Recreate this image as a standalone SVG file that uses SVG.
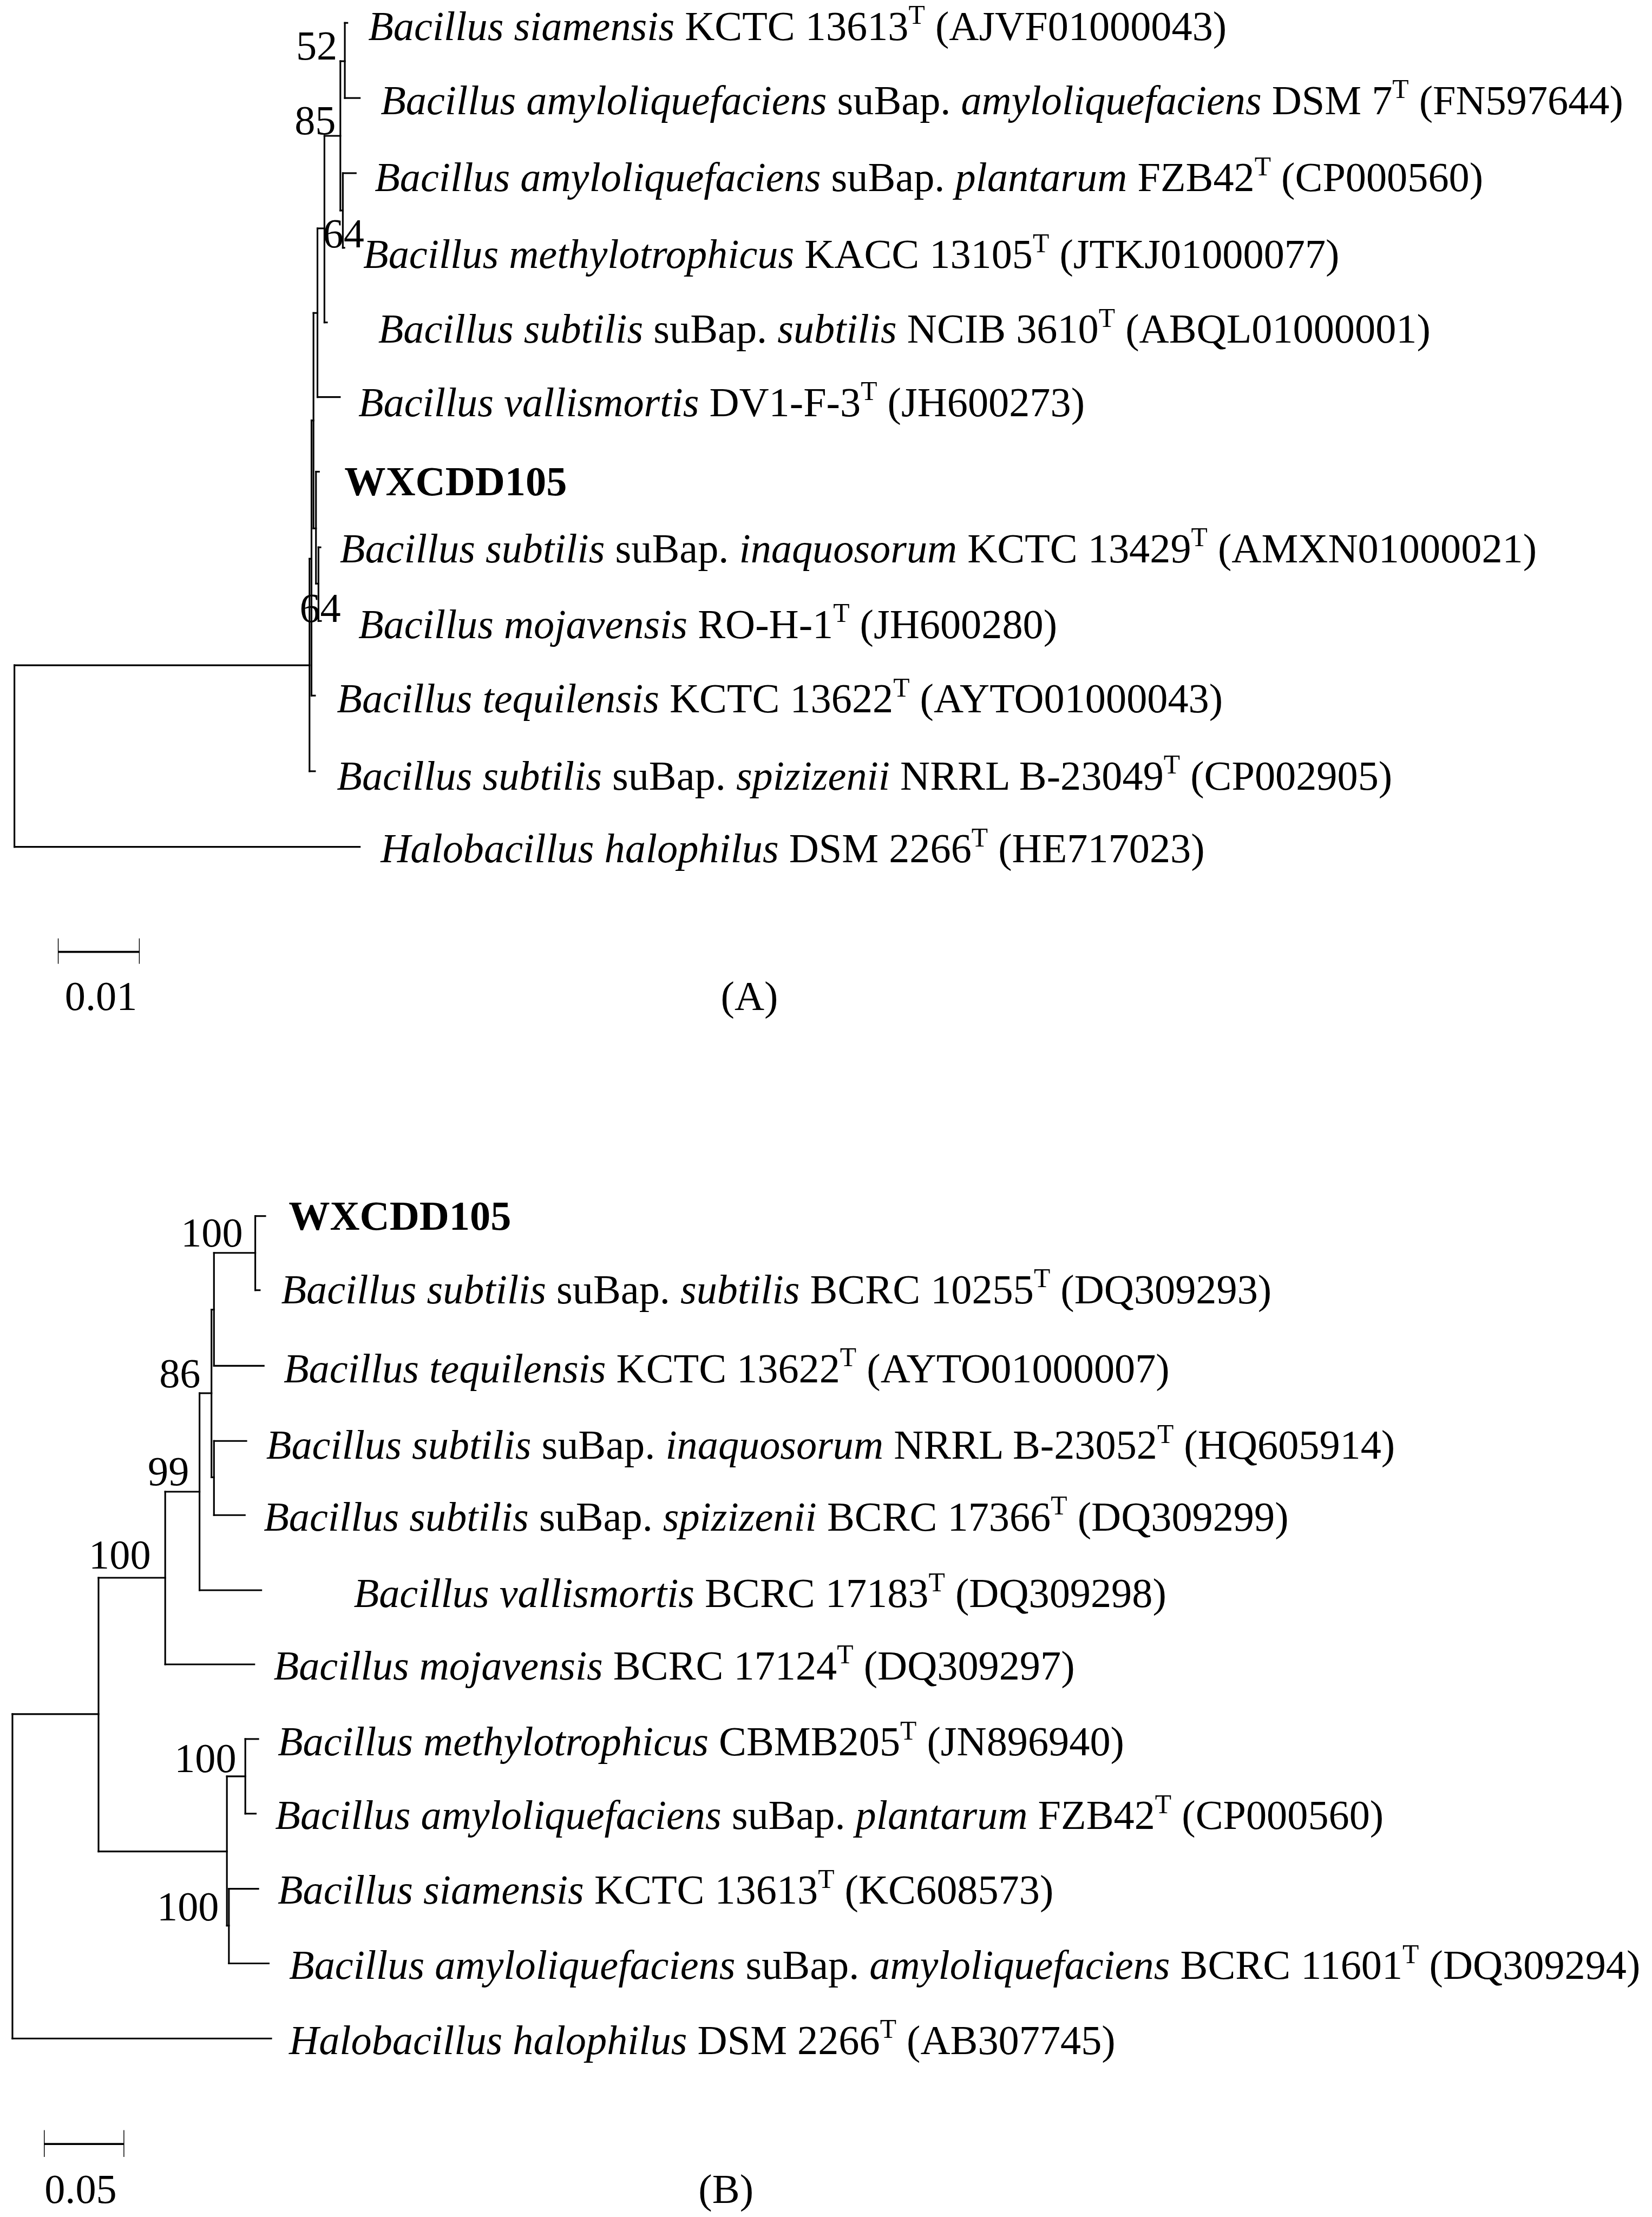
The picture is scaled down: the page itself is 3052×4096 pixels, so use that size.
<svg xmlns="http://www.w3.org/2000/svg" width="3052" height="4096" viewBox="0 0 3052 4096">
<style>
text{font-family:"Liberation Serif","Times New Roman",serif;font-size:83px;fill:#000}
.i{font-style:italic}
.b{font-weight:bold}
.sup{font-size:54px}
.bs{text-anchor:end}
.mid{text-anchor:middle}
.br line{stroke:#000;stroke-width:3.4;stroke-linecap:square}
.sc line{stroke:#000}
</style>
<rect width="3052" height="4096" fill="#fff"/>
<g transform="scale(0.91928)">
<!-- Tree A connectors -->
<g id="connectors-A" class="br">
<line x1="693" y1="46" x2="693" y2="197"/><line x1="693" y1="46" x2="698" y2="46"/><line x1="693" y1="197" x2="723" y2="197"/>
<line x1="684" y1="123" x2="684" y2="423"/><line x1="684" y1="123" x2="693" y2="123"/>
<line x1="689" y1="348" x2="689" y2="498"/><line x1="689" y1="348" x2="715" y2="348"/><line x1="689" y1="498" x2="692" y2="498"/><line x1="684" y1="423" x2="689" y2="423"/>
<line x1="652" y1="273" x2="652" y2="648"/><line x1="652" y1="273" x2="684" y2="273"/><line x1="652" y1="648" x2="657" y2="648"/>
<line x1="638" y1="459" x2="638" y2="798"/><line x1="638" y1="459" x2="652" y2="459"/><line x1="638" y1="798" x2="683" y2="798"/>
<line x1="630" y1="629" x2="630" y2="1062"/><line x1="630" y1="629" x2="638" y2="629"/>
<line x1="635" y1="948" x2="635" y2="1173"/><line x1="630" y1="1062" x2="635" y2="1062"/><line x1="635" y1="948" x2="641" y2="948"/>
<line x1="640" y1="1100" x2="640" y2="1248"/><line x1="635" y1="1173" x2="640" y2="1173"/><line x1="640" y1="1100" x2="644" y2="1100"/><line x1="640" y1="1248" x2="645" y2="1248"/>
<line x1="626" y1="845" x2="626" y2="1398"/><line x1="626" y1="845" x2="630" y2="845"/><line x1="626" y1="1398" x2="633" y2="1398"/>
<line x1="622" y1="1123" x2="622" y2="1550"/><line x1="622" y1="1123" x2="626" y2="1123"/><line x1="622" y1="1550" x2="633" y2="1550"/>
<line x1="29" y1="1337" x2="29" y2="1702"/><line x1="29" y1="1337" x2="622" y2="1337"/><line x1="29" y1="1702" x2="723" y2="1702"/>
</g>
<!-- Tree B connectors -->
<g id="connectors-B" class="br">
<line x1="513" y1="2444" x2="513" y2="2593"/><line x1="513" y1="2444" x2="533" y2="2444"/><line x1="513" y1="2593" x2="522" y2="2593"/>
<line x1="430" y1="2518" x2="430" y2="2745"/><line x1="430" y1="2518" x2="513" y2="2518"/><line x1="430" y1="2745" x2="530" y2="2745"/>
<line x1="430" y1="2896" x2="430" y2="3045"/><line x1="430" y1="2896" x2="495" y2="2896"/><line x1="430" y1="3045" x2="492" y2="3045"/>
<line x1="425" y1="2632" x2="425" y2="2969"/><line x1="425" y1="2632" x2="430" y2="2632"/><line x1="425" y1="2969" x2="430" y2="2969"/>
<line x1="401" y1="2800" x2="401" y2="3196"/><line x1="401" y1="2800" x2="425" y2="2800"/><line x1="401" y1="3196" x2="525" y2="3196"/>
<line x1="332" y1="2998" x2="332" y2="3345"/><line x1="332" y1="2998" x2="401" y2="2998"/><line x1="332" y1="3345" x2="511" y2="3345"/>
<line x1="198" y1="3171" x2="198" y2="3721"/><line x1="198" y1="3171" x2="332" y2="3171"/>
<line x1="456" y1="3570" x2="456" y2="3870"/><line x1="198" y1="3721" x2="456" y2="3721"/>
<line x1="493" y1="3495" x2="493" y2="3645"/><line x1="456" y1="3570" x2="493" y2="3570"/><line x1="493" y1="3495" x2="519" y2="3495"/><line x1="493" y1="3645" x2="514" y2="3645"/>
<line x1="460" y1="3796" x2="460" y2="3946"/><line x1="456" y1="3870" x2="460" y2="3870"/><line x1="460" y1="3796" x2="519" y2="3796"/><line x1="460" y1="3946" x2="540" y2="3946"/>
<line x1="25" y1="3445" x2="25" y2="4097"/><line x1="25" y1="3445" x2="198" y2="3445"/><line x1="25" y1="4097" x2="545" y2="4097"/>
</g>
<!-- Tree A leaves -->
<g id="A-siamensis"><text x="740" y="80"><tspan class="i">Bacillus siamensis</tspan> KCTC 13613<tspan class="sup" dy="-32">T</tspan><tspan dy="32"> (AJVF01000043)</tspan></text></g>
<g id="A-amylo"><text x="765" y="229"><tspan class="i">Bacillus amyloliquefaciens</tspan> suBap. <tspan class="i">amyloliquefaciens</tspan> DSM 7<tspan class="sup" dy="-32">T</tspan><tspan dy="32"> (FN597644)</tspan></text></g>
<g id="A-plantarum"><text x="753" y="384"><tspan class="i">Bacillus amyloliquefaciens</tspan> suBap. <tspan class="i">plantarum</tspan> FZB42<tspan class="sup" dy="-32">T</tspan><tspan dy="32"> (CP000560)</tspan></text></g>
<g id="A-methylo"><text x="730" y="539"><tspan class="i">Bacillus methylotrophicus</tspan> KACC 13105<tspan class="sup" dy="-32">T</tspan><tspan dy="32"> (JTKJ01000077)</tspan></text></g>
<g id="A-subtilis"><text x="760" y="689"><tspan class="i">Bacillus subtilis</tspan> suBap. <tspan class="i">subtilis</tspan> NCIB 3610<tspan class="sup" dy="-32">T</tspan><tspan dy="32"> (ABQL01000001)</tspan></text></g>
<g id="A-vallismortis"><text x="720" y="836"><tspan class="i">Bacillus vallismortis</tspan> DV1-F-3<tspan class="sup" dy="-32">T</tspan><tspan dy="32"> (JH600273)</tspan></text></g>
<g id="A-WXCDD105"><text class="b" x="692" y="995">WXCDD105</text></g>
<g id="A-inaquosorum"><text x="683" y="1130"><tspan class="i">Bacillus subtilis</tspan> suBap. <tspan class="i">inaquosorum</tspan> KCTC 13429<tspan class="sup" dy="-32">T</tspan><tspan dy="32"> (AMXN01000021)</tspan></text></g>
<g id="A-mojavensis"><text x="720" y="1282"><tspan class="i">Bacillus mojavensis</tspan> RO-H-1<tspan class="sup" dy="-32">T</tspan><tspan dy="32"> (JH600280)</tspan></text></g>
<g id="A-tequilensis"><text x="677" y="1432"><tspan class="i">Bacillus tequilensis</tspan> KCTC 13622<tspan class="sup" dy="-32">T</tspan><tspan dy="32"> (AYTO01000043)</tspan></text></g>
<g id="A-spizizenii"><text x="677" y="1587"><tspan class="i">Bacillus subtilis</tspan> suBap. <tspan class="i">spizizenii</tspan> NRRL B-23049<tspan class="sup" dy="-32">T</tspan><tspan dy="32"> (CP002905)</tspan></text></g>
<g id="A-halobacillus"><text x="765" y="1733"><tspan class="i">Halobacillus halophilus</tspan> DSM 2266<tspan class="sup" dy="-32">T</tspan><tspan dy="32"> (HE717023)</tspan></text></g>
<!-- Tree A bootstrap -->
<g id="A-bootstrap">
<text class="bs" x="678" y="120">52</text>
<text class="bs" x="675" y="270">85</text>
<text class="bs" x="732" y="497">64</text>
<text class="bs" x="685" y="1250">64</text>
</g>
<!-- Tree A scale -->
<g id="A-scale" class="sc">
<line x1="117" y1="1913" x2="280" y2="1913" stroke-width="4"/>
<line x1="117" y1="1886" x2="117" y2="1937" stroke-width="1.6"/>
<line x1="280" y1="1886" x2="280" y2="1937" stroke-width="1.6"/>
<text class="mid" x="203" y="2030">0.01</text>
</g>
<g id="A-title"><text class="mid" x="1506" y="2030">(A)</text></g>
<!-- Tree B leaves -->
<g id="B-WXCDD105"><text class="b" x="580" y="2471">WXCDD105</text></g>
<g id="B-subtilis"><text x="565" y="2619"><tspan class="i">Bacillus subtilis</tspan> suBap. <tspan class="i">subtilis</tspan> BCRC 10255<tspan class="sup" dy="-32">T</tspan><tspan dy="32"> (DQ309293)</tspan></text></g>
<g id="B-tequilensis"><text x="570" y="2778"><tspan class="i">Bacillus tequilensis</tspan> KCTC 13622<tspan class="sup" dy="-32">T</tspan><tspan dy="32"> (AYTO01000007)</tspan></text></g>
<g id="B-inaquosorum"><text x="535" y="2932"><tspan class="i">Bacillus subtilis</tspan> suBap. <tspan class="i">inaquosorum</tspan> NRRL B-23052<tspan class="sup" dy="-32">T</tspan><tspan dy="32"> (HQ605914)</tspan></text></g>
<g id="B-spizizenii"><text x="530" y="3076"><tspan class="i">Bacillus subtilis</tspan> suBap. <tspan class="i">spizizenii</tspan> BCRC 17366<tspan class="sup" dy="-32">T</tspan><tspan dy="32"> (DQ309299)</tspan></text></g>
<g id="B-vallismortis"><text x="711" y="3230"><tspan class="i">Bacillus vallismortis</tspan> BCRC 17183<tspan class="sup" dy="-32">T</tspan><tspan dy="32"> (DQ309298)</tspan></text></g>
<g id="B-mojavensis"><text x="550" y="3375"><tspan class="i">Bacillus mojavensis</tspan> BCRC 17124<tspan class="sup" dy="-32">T</tspan><tspan dy="32"> (DQ309297)</tspan></text></g>
<g id="B-methylo"><text x="558" y="3528"><tspan class="i">Bacillus methylotrophicus</tspan> CBMB205<tspan class="sup" dy="-32">T</tspan><tspan dy="32"> (JN896940)</tspan></text></g>
<g id="B-plantarum"><text x="553" y="3676"><tspan class="i">Bacillus amyloliquefaciens</tspan> suBap. <tspan class="i">plantarum</tspan> FZB42<tspan class="sup" dy="-32">T</tspan><tspan dy="32"> (CP000560)</tspan></text></g>
<g id="B-siamensis"><text x="558" y="3826"><tspan class="i">Bacillus siamensis</tspan> KCTC 13613<tspan class="sup" dy="-32">T</tspan><tspan dy="32"> (KC608573)</tspan></text></g>
<g id="B-amylo"><text x="581" y="3977"><tspan class="i">Bacillus amyloliquefaciens</tspan> suBap. <tspan class="i">amyloliquefaciens</tspan> BCRC 11601<tspan class="sup" dy="-32">T</tspan><tspan dy="32"> (DQ309294)</tspan></text></g>
<g id="B-halobacillus"><text x="581" y="4128"><tspan class="i">Halobacillus halophilus</tspan> DSM 2266<tspan class="sup" dy="-32">T</tspan><tspan dy="32"> (AB307745)</tspan></text></g>
<!-- Tree B bootstrap -->
<g id="B-bootstrap">
<text class="bs" x="488" y="2505">100</text>
<text class="bs" x="403" y="2788">86</text>
<text class="bs" x="380" y="2985">99</text>
<text class="bs" x="303" y="3153">100</text>
<text class="bs" x="475" y="3562">100</text>
<text class="bs" x="440" y="3859">100</text>
</g>
<!-- Tree B scale -->
<g id="B-scale" class="sc">
<line x1="89" y1="4309" x2="249" y2="4309" stroke-width="4"/>
<line x1="89" y1="4281" x2="89" y2="4335" stroke-width="1.6"/>
<line x1="249" y1="4281" x2="249" y2="4335" stroke-width="1.6"/>
<text class="mid" x="162" y="4427">0.05</text>
</g>
<g id="B-title"><text class="mid" x="1459" y="4427">(B)</text></g>
</g>
</svg>
